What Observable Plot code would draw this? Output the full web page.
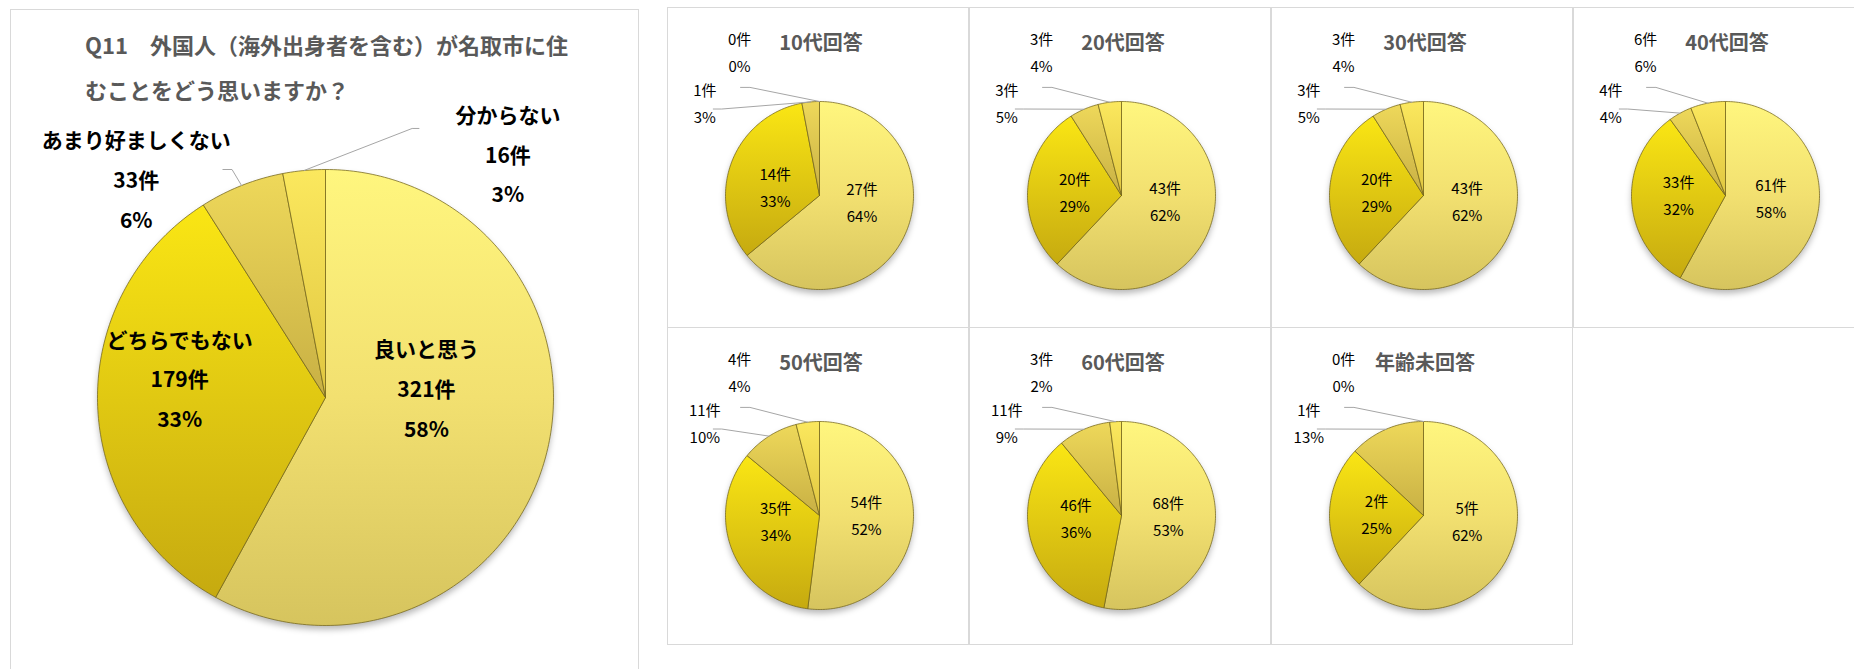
<!DOCTYPE html>
<html><head><meta charset="utf-8">
<script src="https://cdn.jsdelivr.net/npm/d3@7"></script>
<script src="https://cdn.jsdelivr.net/npm/@observablehq/plot@0.6"></script>
<style>
html,body{margin:0;padding:0;background:#fff;width:1854px;height:669px;overflow:hidden;font-family:"Noto Sans CJK JP","Noto Sans",sans-serif}
.panel{position:absolute;box-sizing:border-box;border:1px solid #d9d9d9;background:#fff;overflow:hidden}
.panel svg.pie{position:absolute;left:0;top:0}
.ptitle{position:absolute;left:0;right:0;text-align:center;font-weight:bold;color:#595959;white-space:nowrap}
.mtitle{position:absolute;font-weight:bold;color:#595959;white-space:nowrap}
</style></head><body>
<svg width="0" height="0" style="position:absolute">
  <defs>
    <linearGradient id="g0" x1="0" y1="0" x2="0" y2="1"><stop offset="0" stop-color="#fff67e"/><stop offset="0.5" stop-color="#f2e070"/><stop offset="1" stop-color="#d6c45e"/></linearGradient>
    <linearGradient id="g1" x1="0" y1="0" x2="0" y2="1"><stop offset="0" stop-color="#fae614"/><stop offset="1" stop-color="#c6aa10"/></linearGradient>
    <linearGradient id="g2" x1="0" y1="0" x2="0" y2="1"><stop offset="0" stop-color="#eed85a"/><stop offset="1" stop-color="#c8b044"/></linearGradient>
    <linearGradient id="g3" x1="0" y1="0" x2="0" y2="1"><stop offset="0" stop-color="#fbe85e"/><stop offset="1" stop-color="#e0c640"/></linearGradient>
  </defs>
</svg>
<div id="root"></div>
<script>
// ---------- data ----------
const titleLines = ["Q11\u3000外国人（海外出身者を含む）が名取市に住", "むことをどう思いますか？"];
const categories = ["良いと思う", "どちらでもない", "あまり好ましくない", "分からない"];
const mainCounts = [321, 179, 33, 16];
const mainPercents = [58, 33, 6, 3];

const groupTitles = ["10代回答", "20代回答", "30代回答", "40代回答", "50代回答", "60代回答", "年齢未回答"];
const counts10 = [27, 14, 1, 0],  pct10 = [64, 33, 3, 0];
const counts20 = [43, 20, 3, 3],  pct20 = [62, 29, 5, 4];
const counts30 = [43, 20, 3, 3],  pct30 = [62, 29, 5, 4];
const counts40 = [61, 33, 4, 6],  pct40 = [58, 32, 4, 6];
const counts50 = [54, 35, 11, 4], pct50 = [52, 34, 10, 4];
const counts60 = [68, 46, 11, 3], pct60 = [53, 36, 9, 2];
const countsNA = [5, 2, 1, 0],    pctNA = [62, 25, 13, 0];
const groupCounts = [counts10, counts20, counts30, counts40, counts50, counts60, countsNA];
const groupPercents = [pct10, pct20, pct30, pct40, pct50, pct60, pctNA];

// ---------- styling / layout ----------
const fills = ["url(#g0)", "url(#g1)", "url(#g2)", "url(#g3)"];
const FONT = '"Noto Sans CJK JP","Noto Sans",sans-serif';

const mainLayout = {left: 10, top: 9, w: 629, h: 700, cx: 314, cy: 387, r: 228,
  fontSize: 21, bold: true, names: true, spacing: 0.175, insideR: 0.55, insideDX: -0.09, insideDY: 0.08,
  slots: {2: {label: [-0.83, 0.95], elbow: [-0.41, 1.0], end: [-0.45, 1.0]},
          3: {label: [0.80, 1.06], elbow: [0.38, 1.18], end: [0.41, 1.18]}}};
const smallSlots = {3: {label: [-0.85, 1.51], elbow: [-0.74, 1.15], end: [-0.84, 1.15]},
                    2: {label: [-1.22, 0.97], elbow: [-1.04, 0.92], end: [-1.13, 0.92]}};
const colLefts = [667, 969, 1271, 1573], rowTops = [7, 327], rowH = [321, 318];

// ---------- helpers ----------
function pieSlices(values) {
  const total = d3.sum(values);
  let acc = 0;
  return values.map((v, i) => {
    const a0 = acc / total * 2 * Math.PI; acc += v;
    const a1 = acc / total * 2 * Math.PI;
    return {i, v, a0, a1, mid: (a0 + a1) / 2};
  });
}
function slicePoints(s) {
  const pts = [{x: 0, y: 0}];
  const n = Math.max(2, Math.ceil((s.a1 - s.a0) / (Math.PI / 180)));
  for (let j = 0; j <= n; j++) {
    const a = s.a0 + (s.a1 - s.a0) * j / n;
    pts.push({x: Math.sin(a), y: Math.cos(a)});
  }
  pts.push({x: 0, y: 0});
  return pts;
}
function circlePoints() {
  return d3.range(0, 361, 2).map(d => ({x: Math.sin(d * Math.PI / 180), y: Math.cos(d * Math.PI / 180)}));
}

function drawPie(L, counts, pcts, svgW, svgH) {
  const slices = pieSlices(pcts);
  const texts = [], leaders = [];
  slices.forEach(s => {
    const lines = (L.names ? [categories[s.i]] : []).concat([counts[s.i] + "件", pcts[s.i] + "%"]);
    const slot = L.slots[s.i];
    let cx, cy;
    if (slot) {
      [cx, cy] = slot.label;
      const sx = Math.sin(s.mid), sy = Math.cos(s.mid);
      leaders.push({x: sx, y: sy, k: s.i}, {x: slot.elbow[0], y: slot.elbow[1], k: s.i}, {x: slot.end[0], y: slot.end[1], k: s.i});
    } else {
      cx = L.insideR * Math.sin(s.mid) + (L.insideDX || 0);
      cy = 0.2 * Math.cos(s.mid) + (L.insideDY || 0);
    }
    lines.forEach((t, j) => texts.push({x: cx, y: cy - (j - (lines.length - 1) / 2) * L.spacing, t}));
  });
  const marks = [
    Plot.line(circlePoints(), {x: "x", y: "y", fill: "#000", fillOpacity: 0.28, stroke: "none", dy: 4}),
    ...slices.filter(s => s.v > 0).map(s =>
      Plot.line(slicePoints(s), {x: "x", y: "y", fill: fills[s.i], stroke: "#75671c", strokeWidth: 0.9, strokeOpacity: 0.85})),
    Plot.line(leaders, {x: "x", y: "y", z: "k", stroke: "#a6a6a6", strokeWidth: 1}),
    Plot.text(texts, {x: "x", y: "y", text: "t", fontSize: L.fontSize, fontWeight: L.bold ? "bold" : "normal", fill: "#000"})
  ];
  const svg = Plot.plot({
    width: svgW, height: svgH, margin: 0,
    style: {fontFamily: FONT, background: "transparent", overflow: "visible"},
    x: {domain: [-L.cx / L.r, (svgW - L.cx) / L.r], axis: null},
    y: {domain: [-(svgH - L.cy) / L.r, L.cy / L.r], axis: null},
    marks
  });
  svg.classList.add("pie");
  const shadow = svg.querySelector('g[aria-label="line"]');
  if (shadow) shadow.style.filter = "blur(3px)";
  return svg;
}

const root = document.getElementById("root");

// main panel
{
  const L = mainLayout;
  const p = document.createElement("div");
  p.className = "panel";
  Object.assign(p.style, {left: L.left + "px", top: L.top + "px", width: L.w + "px", height: L.h + "px"});
  p.appendChild(drawPie(L, mainCounts, mainPercents, L.w - 2, L.h - 2));
  const t = document.createElement("div");
  t.className = "mtitle";
  Object.assign(t.style, {left: "74px", top: "12px", fontSize: "22px", lineHeight: "45px"});
  t.innerHTML = titleLines.join("<br>");
  p.appendChild(t);
  root.appendChild(p);
}

// small panels
groupTitles.forEach((title, g) => {
  const col = g % 4, row = Math.floor(g / 4);
  const w = 302, h = rowH[row];
  const p = document.createElement("div");
  p.className = "panel";
  Object.assign(p.style, {left: colLefts[col] + "px", top: rowTops[row] + "px", width: w + "px", height: h + "px"});
  const L = {cx: 151, cy: 187, r: 94, fontSize: 15, bold: false, names: false, spacing: 0.287, insideR: 0.5, slots: smallSlots};
  p.appendChild(drawPie(L, groupCounts[g], groupPercents[g], w - 2, h - 2));
  const t = document.createElement("div");
  t.className = "ptitle";
  Object.assign(t.style, {top: "21px", fontSize: "20px", lineHeight: "26px", paddingLeft: "6px"});
  t.textContent = title;
  p.appendChild(t);
  root.appendChild(p);
});
</script>
</body></html>
